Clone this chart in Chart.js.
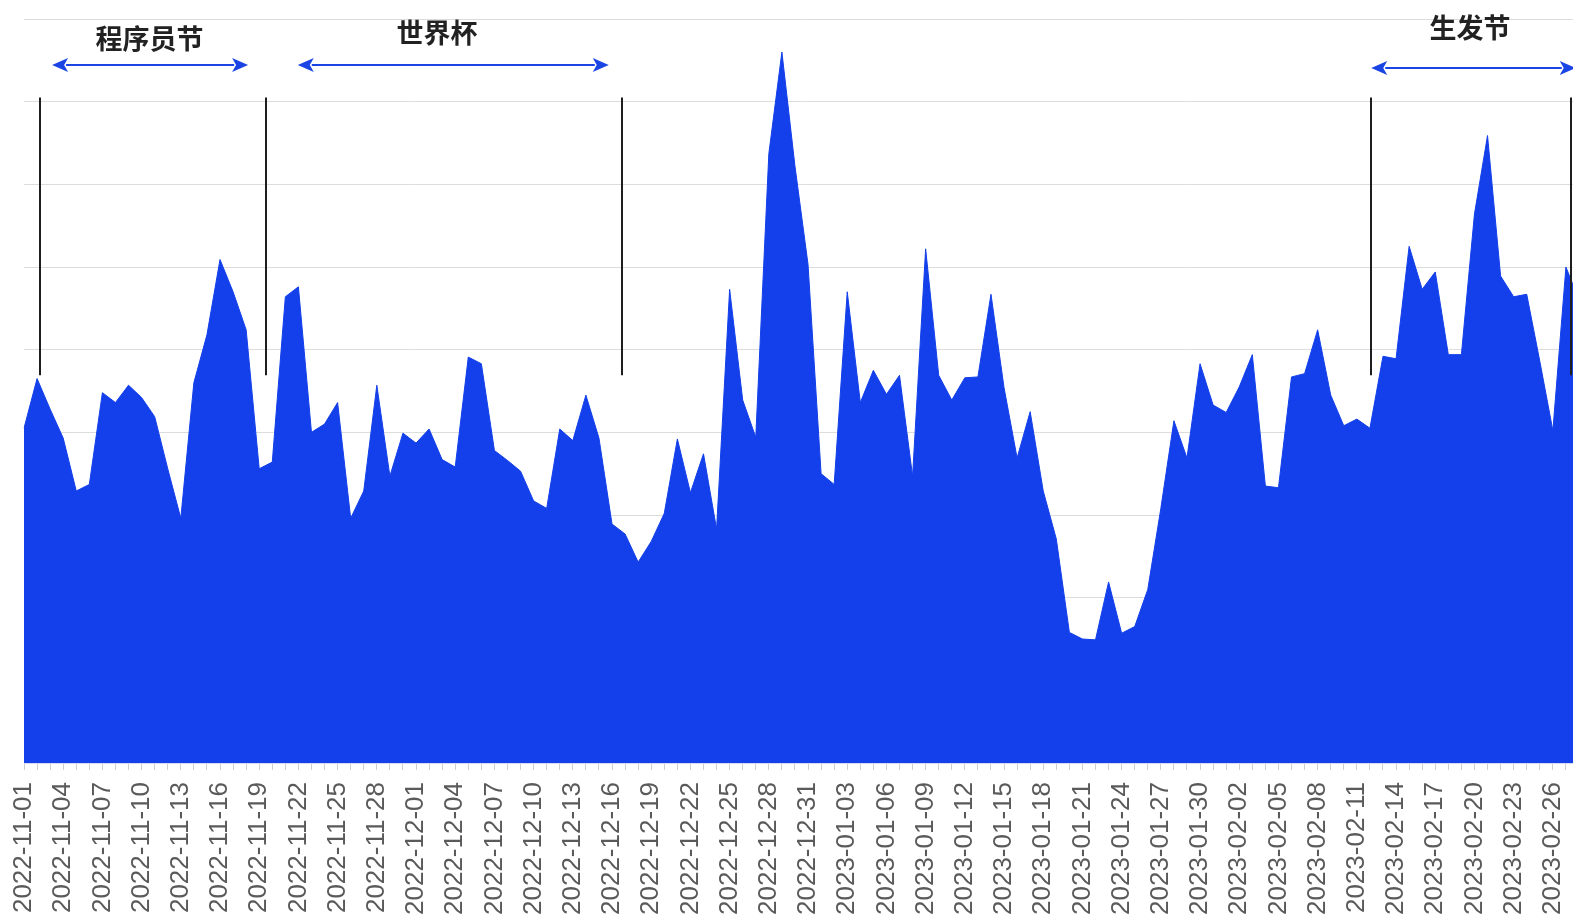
<!DOCTYPE html>
<html>
<head>
<meta charset="utf-8">
<script src="https://cdn.jsdelivr.net/npm/chart.js@4.4.0/dist/chart.umd.min.js"></script>
<style>
  html, body { margin: 0; padding: 0; background: #fff; overflow: hidden; }
  canvas { display: block; }
</style>
</head>
<body>
<canvas id="myChart" width="1590" height="919"></canvas>
<script>
// categories: one per day
const dates = [
  "2022-11-01","2022-11-02","2022-11-03","2022-11-04","2022-11-05","2022-11-06","2022-11-07","2022-11-08","2022-11-09","2022-11-10",
  "2022-11-11","2022-11-12","2022-11-13","2022-11-14","2022-11-15","2022-11-16","2022-11-17","2022-11-18","2022-11-19","2022-11-20",
  "2022-11-21","2022-11-22","2022-11-23","2022-11-24","2022-11-25","2022-11-26","2022-11-27","2022-11-28","2022-11-29","2022-11-30",
  "2022-12-01","2022-12-02","2022-12-03","2022-12-04","2022-12-05","2022-12-06","2022-12-07","2022-12-08","2022-12-09","2022-12-10",
  "2022-12-11","2022-12-12","2022-12-13","2022-12-14","2022-12-15","2022-12-16","2022-12-17","2022-12-18","2022-12-19","2022-12-20",
  "2022-12-21","2022-12-22","2022-12-23","2022-12-24","2022-12-25","2022-12-26","2022-12-27","2022-12-28","2022-12-29","2022-12-30",
  "2022-12-31","2023-01-01","2023-01-02","2023-01-03","2023-01-04","2023-01-05","2023-01-06","2023-01-07","2023-01-08","2023-01-09",
  "2023-01-10","2023-01-11","2023-01-12","2023-01-13","2023-01-14","2023-01-15","2023-01-16","2023-01-17","2023-01-18","2023-01-19",
  "2023-01-20","2023-01-21","2023-01-22","2023-01-23","2023-01-24","2023-01-25","2023-01-26","2023-01-27","2023-01-28","2023-01-29",
  "2023-01-30","2023-01-31","2023-02-01","2023-02-02","2023-02-03","2023-02-04","2023-02-05","2023-02-06","2023-02-07","2023-02-08",
  "2023-02-09","2023-02-10","2023-02-11","2023-02-12","2023-02-13","2023-02-14","2023-02-15","2023-02-16","2023-02-17","2023-02-18",
  "2023-02-19","2023-02-20","2023-02-21","2023-02-22","2023-02-23","2023-02-24","2023-02-25","2023-02-26","2023-02-27","2023-02-28",
];

// daily values (no y labels in the picture, so arbitrary units, 1 unit = 1 gridline)
const heat = [
  4.05, 4.65, 4.28, 3.93, 3.29, 3.37, 4.48, 4.36, 4.57, 4.42,
  4.19, 3.56, 2.96, 4.60, 5.18, 6.09, 5.70, 5.24, 3.56, 3.64,
  5.64, 5.76, 4.00, 4.10, 4.36, 2.96, 3.29, 4.57, 3.47, 3.99,
  3.87, 4.04, 3.67, 3.58, 4.91, 4.83, 3.78, 3.66, 3.53, 3.17,
  3.08, 4.04, 3.90, 4.45, 3.93, 2.89, 2.77, 2.43, 2.68, 3.02,
  3.92, 3.27, 3.74, 2.83, 5.73, 4.39, 3.94, 7.37, 8.60, 7.22,
  6.03, 3.50, 3.37, 5.70, 4.36, 4.75, 4.46, 4.69, 3.47, 6.22,
  4.69, 4.39, 4.66, 4.67, 5.67, 4.54, 3.69, 4.25, 3.29, 2.71,
  1.58, 1.50, 1.49, 2.19, 1.57, 1.65, 2.10, 3.08, 4.14, 3.69,
  4.83, 4.33, 4.24, 4.55, 4.94, 3.35, 3.33, 4.67, 4.71, 5.24,
  4.45, 4.08, 4.16, 4.05, 4.92, 4.89, 6.25, 5.73, 5.94, 4.94,
  4.94, 6.64, 7.59, 5.89, 5.64, 5.67, 4.86, 4.02, 6.00, 5.60,
];

// event annotations, in data units (x = day index, y = value)
const eventNames = ["程序员节", "世界杯", "生发节"];
const eventFrom = [2.15, 20.95, 103.1];
const eventTo = [17.15, 44.75, 118.75];
const arrowLevel = [8.44, 8.44, 8.41];
const labelIdx = [9.6, 31.6, 110.65];
const labelLevel = [8.76, 8.83, 8.89];
const markerIdx = [1.25, 18.5, 45.75, 103.05, 118.35];
const markerTop = 8.05;
const markerBottom = 4.69;

function drawArrow(ctx, x1, x2, y) {
  const head = 16, half = 7;
  ctx.strokeStyle = "#1a44e4";
  ctx.fillStyle = "#1a44e4";
  ctx.lineWidth = 2;
  ctx.beginPath();
  ctx.moveTo(x1 + head - 2, y);
  ctx.lineTo(x2 - head + 2, y);
  ctx.stroke();
  ctx.beginPath();
  ctx.moveTo(x1, y);
  ctx.lineTo(x1 + head, y - half);
  ctx.lineTo(x1 + head - 4, y);
  ctx.lineTo(x1 + head, y + half);
  ctx.closePath();
  ctx.fill();
  ctx.beginPath();
  ctx.moveTo(x2, y);
  ctx.lineTo(x2 - head, y - half);
  ctx.lineTo(x2 - head + 4, y);
  ctx.lineTo(x2 - head, y + half);
  ctx.closePath();
  ctx.fill();
}

const eventMarks = {
  id: "eventMarks",
  afterDatasetsDraw(c) {
    const { ctx, scales: { x, y } } = c;
    ctx.save();

    ctx.strokeStyle = "#1e1e1e";
    ctx.lineWidth = 2;
    markerIdx.forEach((i) => {
      const px = Math.round(x.getPixelForValue(i));
      ctx.beginPath();
      ctx.moveTo(px, y.getPixelForValue(markerTop));
      ctx.lineTo(px, y.getPixelForValue(markerBottom));
      ctx.stroke();
    });

    eventNames.forEach((name, k) => {
      const ay = Math.round(y.getPixelForValue(arrowLevel[k]));
      drawArrow(ctx, x.getPixelForValue(eventFrom[k]), x.getPixelForValue(eventTo[k]), ay);
      ctx.fillStyle = "#222";
      ctx.font = "bold 27px 'Noto Sans CJK SC'";
      ctx.textAlign = "center";
      ctx.textBaseline = "middle";
      ctx.fillText(name, x.getPixelForValue(labelIdx[k]), y.getPixelForValue(labelLevel[k]));
    });

    ctx.restore();
  },
};

new Chart(document.getElementById("myChart"), {
  type: "line",
  data: {
    labels: dates,
    datasets: [
      {
        data: heat,
        fill: "origin",
        backgroundColor: "#1340ea",
        borderColor: "#1340ea",
        borderWidth: 1,
        pointRadius: 0,
        tension: 0,
      },
    ],
  },
  options: {
    responsive: false,
    animation: false,
    layout: { padding: { top: 19, left: 24, right: 11, bottom: 0 } },
    plugins: { legend: { display: false }, tooltip: { enabled: false } },
    scales: {
      x: {
        grid: { drawOnChartArea: false, tickLength: 7, color: "#cfcfcf" },
        border: { color: "#d6dcef" },
        ticks: {
          autoSkip: false,
          maxRotation: 90,
          minRotation: 90,
          padding: 12,
          color: "#5a5a5a",
          font: { family: "'Liberation Sans', Arial, sans-serif", size: 26 },
          callback: (v, i) => (i % 3 === 0 ? dates[i] : ""),
        },
        afterFit: (s) => {
          s.height = 156;
          s.paddingLeft = 0;
          s.paddingRight = 0;
        },
      },
      y: {
        min: 0,
        max: 9,
        ticks: { display: false, stepSize: 1 },
        grid: { color: "#dcdcdc", drawTicks: false },
        border: { display: false },
        afterFit: (s) => { s.width = 0; },
      },
    },
  },
  plugins: [eventMarks],
});
</script>
</body>
</html>
